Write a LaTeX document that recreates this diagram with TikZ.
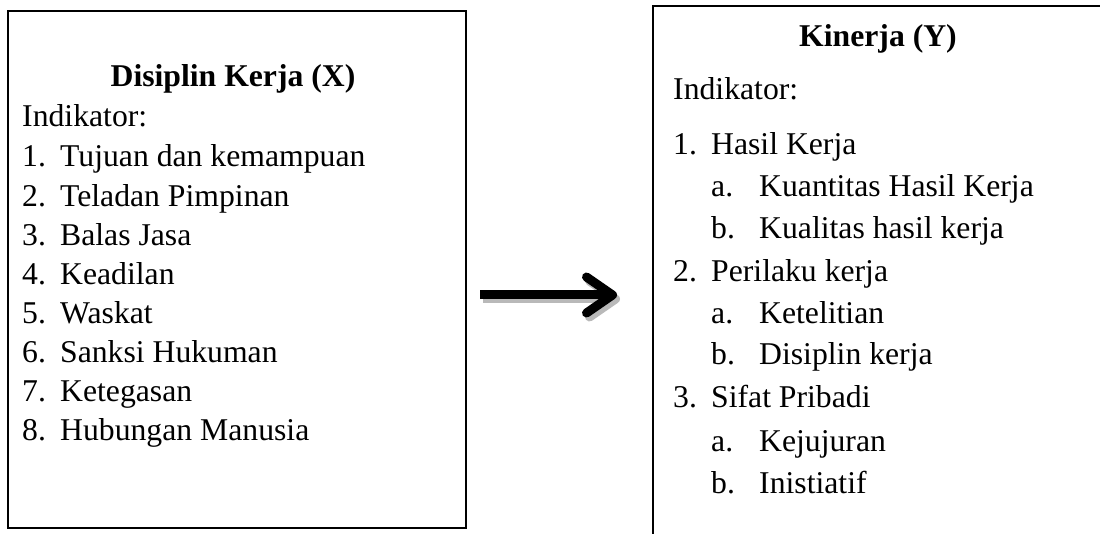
\documentclass[tikz,border=0pt]{standalone}
\usepackage{fontspec}
\setmainfont{Liberation Serif}
\usetikzlibrary{positioning, arrows.meta, calc}
\newcommand{\numitem}[3]{\makebox[#1][l]{#2}#3}

\begin{document}
\begin{tikzpicture}[
    x=1pt, y=-1pt,
    frame/.style={
        rectangle, draw=black, line width=2pt,
        inner sep=0pt, anchor=north west
    },
    title/.style={font=\fontsize{31.7}{38}\selectfont\bfseries, anchor=base, inner sep=0pt},
    entry/.style={font=\fontsize{31.7}{38}\selectfont, anchor=base west, inner sep=0pt},
    bigarrow/.style={-{Straight Barb[length=26pt, width=36pt, round]}, line width=9pt},
    shadowarrow/.style={bigarrow, gray!55}
]
\useasboundingbox (0,0) rectangle (1100,534);

% === Left box: Disiplin Kerja (X) ===
\node[frame, minimum width=458pt, minimum height=517pt] (disiplin) at (7,10) {};

\node[title] (xtitle) at (233,86.5) {Disiplin Kerja (X)};
\node[entry] (xind) at (22,127) {Indikator:};
\node[entry] (x1) at ($(xind.base west)+(0,40)$) {\numitem{38pt}{1.}{Tujuan dan kemampuan}};
\node[entry] (x2) at ($(x1.base west)+(0,39.1)$) {\numitem{38pt}{2.}{Teladan Pimpinan}};
\node[entry] (x3) at ($(x2.base west)+(0,39.1)$) {\numitem{38pt}{3.}{Balas Jasa}};
\node[entry] (x4) at ($(x3.base west)+(0,39.1)$) {\numitem{38pt}{4.}{Keadilan}};
\node[entry] (x5) at ($(x4.base west)+(0,39.1)$) {\numitem{38pt}{5.}{Waskat}};
\node[entry] (x6) at ($(x5.base west)+(0,39.1)$) {\numitem{38pt}{6.}{Sanksi Hukuman}};
\node[entry] (x7) at ($(x6.base west)+(0,39.1)$) {\numitem{38pt}{7.}{Ketegasan}};
\node[entry] (x8) at ($(x7.base west)+(0,39.1)$) {\numitem{38pt}{8.}{Hubungan Manusia}};

% === Right box: Kinerja (Y), open to the right and below ===
\node[frame, minimum width=520pt, minimum height=580pt] (kinerja) at (652,5) {};

\node[title] (ytitle) at (878,47) {Kinerja (Y)};
\node[entry] (yind) at (673,100) {Indikator:};
\node[entry] (y1) at ($(yind.base west)+(0,55)$) {\numitem{38pt}{1.}{Hasil Kerja}};
\node[entry] (y1a) at ($(y1.base west)+(38,42)$) {\numitem{48pt}{a.}{Kuantitas Hasil Kerja}};
\node[entry] (y1b) at ($(y1a.base west)+(0,41.5)$) {\numitem{48pt}{b.}{Kualitas hasil kerja}};
\node[entry] (y2) at ($(y1b.base west)+(-38,43.5)$) {\numitem{38pt}{2.}{Perilaku kerja}};
\node[entry] (y2a) at ($(y2.base west)+(38,41.5)$) {\numitem{48pt}{a.}{Ketelitian}};
\node[entry] (y2b) at ($(y2a.base west)+(0,41.5)$) {\numitem{48pt}{b.}{Disiplin kerja}};
\node[entry] (y3) at ($(y2b.base west)+(-38,42)$) {\numitem{38pt}{3.}{Sifat Pribadi}};
\node[entry] (y3a) at ($(y3.base west)+(38,44)$) {\numitem{48pt}{a.}{Kejujuran}};
\node[entry] (y3b) at ($(y3a.base west)+(0,42)$) {\numitem{48pt}{b.}{Inistiatif}};

% === Arrow between the boxes ===
\coordinate (arrowtail) at (480,295);
\coordinate (arrowtip) at (617,295);
\draw[shadowarrow] ($(arrowtail)+(3,4)$) -- ($(arrowtip)+(3,4)$);
\draw[bigarrow] (arrowtail) -- (arrowtip);

\end{tikzpicture}
\end{document}
